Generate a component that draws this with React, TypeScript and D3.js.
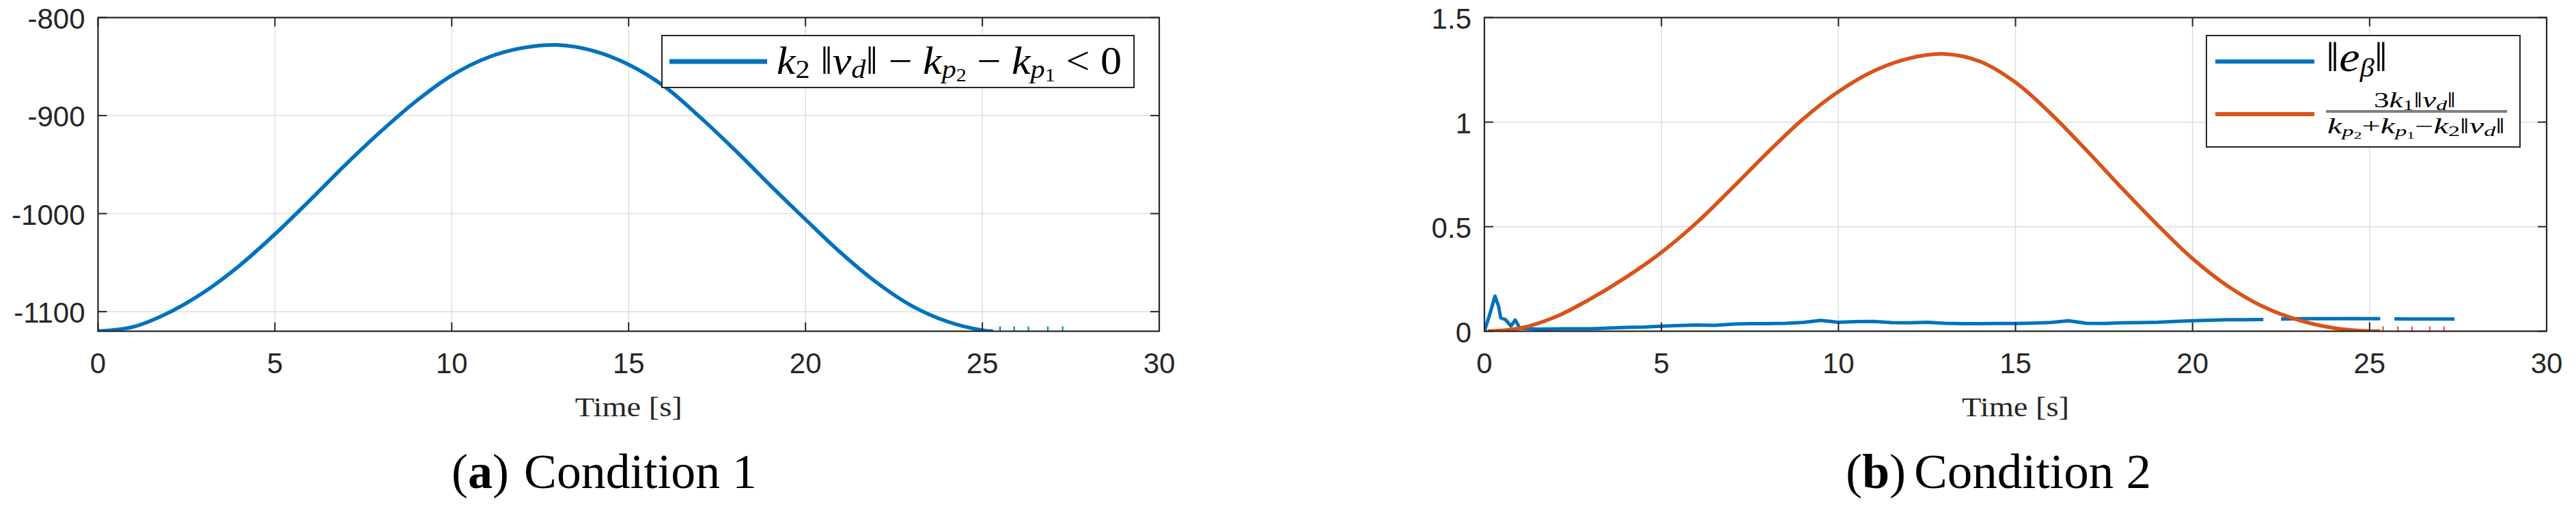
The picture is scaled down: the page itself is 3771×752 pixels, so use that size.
import React from 'react';
import * as d3 from 'd3';

// ---- data ----
const xTicks = [0, 5, 10, 15, 20, 25, 30];
const leftYTicks = [-1100, -1000, -900, -800];
const rightYTicks = [0, 0.5, 1, 1.5];

// (a) k2||vd|| - kp2 - kp1
const cond1Time = [0, 1, 2, 3, 4, 5, 6, 7, 8, 9, 10, 11, 12, 13, 14, 15, 16, 17, 18, 19, 20, 21, 22, 23, 24, 25, 25.3];
const cond1Value = [-1120, -1115.5, -1101, -1080, -1053, -1021, -986, -950, -916, -885, -859, -841, -831, -828, -834, -848, -870, -901, -935, -971, -1006, -1040, -1070, -1094, -1110, -1119, -1120];
const cond1Spikes = [25.5, 25.9, 26.3, 26.85, 27.27];

// (b) ||e_beta||
const errTime = [0, 0.15, 0.3, 0.4, 0.46, 0.6, 0.75, 0.87, 1.0, 1.5, 2, 2.5, 3, 3.5, 4, 4.5, 5, 5.5, 6, 6.5, 7, 7.5, 8, 8.5, 9, 9.5, 10, 10.5, 11, 11.5, 12, 12.5, 13, 13.5, 14, 14.5, 15, 15.5, 16, 16.5, 17, 17.5, 18, 18.5, 19, 19.5, 20, 20.5, 21, 21.5, 22, 22.3, 22.5, 23, 23.5, 24, 24.5, 25, 25.3, 25.5, 25.7, 26, 26.5, 27, 27.4];
const errValue = [0, 0.08, 0.168, 0.12, 0.064, 0.055, 0.025, 0.054, 0.015, 0.01, 0.011, 0.012, 0.012, 0.015, 0.018, 0.02, 0.024, 0.027, 0.03, 0.028, 0.034, 0.036, 0.036, 0.038, 0.042, 0.052, 0.043, 0.046, 0.047, 0.041, 0.04, 0.043, 0.038, 0.036, 0.036, 0.037, 0.037, 0.039, 0.042, 0.05, 0.038, 0.037, 0.04, 0.041, 0.043, 0.047, 0.05, 0.053, 0.055, 0.055, 0.056, null, 0.058, 0.06, 0.06, 0.06, 0.061, 0.06, 0.06, null, 0.059, 0.058, 0.058, 0.058, 0.058];

// (b) 3k1||vd|| / (kp2 + kp1 - k2||vd||)
const boundTime = [0.1, 1, 2, 3, 4, 5, 6, 7, 8, 9, 10, 11, 12, 13, 14, 15, 16, 17, 18, 19, 20, 21, 22, 23, 24, 25, 25.3];
const boundValue = [0, 0.014, 0.068, 0.155, 0.258, 0.377, 0.52, 0.685, 0.855, 1.015, 1.146, 1.245, 1.305, 1.326, 1.29, 1.19, 1.04, 0.866, 0.685, 0.51, 0.347, 0.215, 0.117, 0.053, 0.015, 0, 0];
const boundSpikes = [25.38, 25.8, 26.2, 26.7, 27.1];

const BLUE = '#0072BD';
const ORANGE = '#D95319';
const AXIS = '#262626';
const GRID = '#dedede';

const top = 25.7;
const bottom = 484.6;
const sans = '"Liberation Sans", Arial, sans-serif';
const serif = '"Liberation Serif", "Times New Roman", serif';

type Series = { time: number[]; value: (number | null)[]; color: string; width: number; curve: d3.CurveFactory; spikes?: number[] };

function Panel({ id, left, right, yDomain, yTicks, series }: { id: string; left: number; right: number; yDomain: [number, number]; yTicks: number[]; series: Series[] }) {
  const x = d3.scaleLinear().domain([0, 30]).range([left, right]);
  const y = d3.scaleLinear().domain(yDomain).range([bottom, top]);
  const tick = 13;

  return (
    <g>
      <defs>
        <clipPath id={id}>
          <rect x={left} y={top} width={right - left} height={bottom - top} />
        </clipPath>
      </defs>
      {/* grid */}
      {xTicks.map((t) => (
        <line key={'gx' + t} x1={x(t)} x2={x(t)} y1={top} y2={bottom} stroke={GRID} strokeWidth={1.5} />
      ))}
      {yTicks.map((t) => (
        <line key={'gy' + t} x1={left} x2={right} y1={y(t)} y2={y(t)} stroke={GRID} strokeWidth={1.5} />
      ))}
      {/* data */}
      <g clipPath={`url(#${id})`}>
        {series.map((s, i) => {
          const pts = s.time.map((t, j) => [t, s.value[j]] as [number, number | null]);
          const line = d3
            .line<[number, number | null]>()
            .defined((d) => d[1] !== null)
            .x((d) => x(d[0]))
            .y((d) => y(d[1] as number))
            .curve(s.curve);
          return (
            <g key={i}>
              <path d={line(pts) || ''} fill="none" stroke={s.color} strokeWidth={s.width} strokeLinejoin="round" />
              {(s.spikes || []).map((t) => (
                <line key={t} x1={x(t)} x2={x(t)} y1={bottom} y2={bottom - 7} stroke={s.color} strokeWidth={2} />
              ))}
            </g>
          );
        })}
      </g>
      {/* ticks, inside on all four sides */}
      {xTicks.map((t) => (
        <g key={'tx' + t}>
          <line x1={x(t)} x2={x(t)} y1={bottom} y2={bottom - tick} stroke={AXIS} strokeWidth={2} />
          <line x1={x(t)} x2={x(t)} y1={top} y2={top + tick} stroke={AXIS} strokeWidth={2} />
          <text x={x(t)} y={546} textAnchor="middle" fontFamily={sans} fontSize={42} fill={AXIS}>
            {t}
          </text>
        </g>
      ))}
      {yTicks.map((t) => (
        <g key={'ty' + t}>
          <line x1={left} x2={left + tick} y1={y(t)} y2={y(t)} stroke={AXIS} strokeWidth={2} />
          <line x1={right} x2={right - tick} y1={y(t)} y2={y(t)} stroke={AXIS} strokeWidth={2} />
          <text x={left - 19} y={y(t) + 16} textAnchor="end" fontFamily={sans} fontSize={42} fill={AXIS}>
            {t}
          </text>
        </g>
      ))}
      <rect x={left} y={top} width={right - left} height={bottom - top} fill="none" stroke={AXIS} strokeWidth={2.2} />
      <text x={(left + right) / 2} y={609} textAnchor="middle" fontFamily={serif} fontSize={40} fill={AXIS} textLength={157} lengthAdjust="spacingAndGlyphs">
        Time [s]
      </text>
    </g>
  );
}

const it = { fontStyle: 'italic' } as const;

export default function App() {
  return (
    <svg width={3771} height={752} style={{ position: 'absolute', left: 0, top: 0, background: '#fff' }}>
      <rect width={3771} height={752} fill="#fff" />
      <Panel
        id="clipA"
        left={143.5}
        right={1697}
        yDomain={[-1120, -800]}
        yTicks={leftYTicks}
        series={[{ time: cond1Time, value: cond1Value, color: BLUE, width: 5.5, curve: d3.curveCatmullRom.alpha(0.5), spikes: cond1Spikes }]}
      />
      <Panel
        id="clipB"
        left={2173}
        right={3728}
        yDomain={[0, 1.5]}
        yTicks={rightYTicks}
        series={[
          { time: errTime, value: errValue, color: BLUE, width: 5, curve: d3.curveLinear },
          { time: boundTime, value: boundValue, color: ORANGE, width: 5.5, curve: d3.curveCatmullRom.alpha(0.5), spikes: boundSpikes },
        ]}
      />

      {/* legend (a) */}
      <rect x={969} y={52} width={691} height={76} fill="#fff" stroke={AXIS} strokeWidth={2} />
      <line x1={980} x2={1123} y1={90} y2={90} stroke={BLUE} strokeWidth={7} />
      <text x={1137} y={108} fontFamily={serif} fontSize={56} fill="#000" textLength={505} lengthAdjust="spacingAndGlyphs">
        <tspan style={it}>k</tspan>
        <tspan fontSize={38} dy={6}>2</tspan>
        <tspan dy={-6}> ‖</tspan>
        <tspan style={it}>v</tspan>
        <tspan style={it} fontSize={38} dy={6}>d</tspan>
        <tspan dy={-6}>‖ − </tspan>
        <tspan style={it}>k</tspan>
        <tspan style={it} fontSize={38} dy={6}>p</tspan>
        <tspan fontSize={27} dy={5}>2</tspan>
        <tspan dy={-11}> − </tspan>
        <tspan style={it}>k</tspan>
        <tspan style={it} fontSize={38} dy={6}>p</tspan>
        <tspan fontSize={27} dy={5}>1</tspan>
        <tspan dy={-11}> {'<'} 0</tspan>
      </text>

      {/* legend (b) */}
      <rect x={3230} y={52} width={459} height={163} fill="#fff" stroke={AXIS} strokeWidth={2} />
      <line x1={3243} x2={3388} y1={90} y2={90} stroke={BLUE} strokeWidth={6} />
      <line x1={3243} x2={3388} y1={167} y2={167} stroke={ORANGE} strokeWidth={6} />
      <text x={3405} y={104} fontFamily={serif} fontSize={62} fill="#000" textLength={90} lengthAdjust="spacingAndGlyphs">
        <tspan>‖</tspan>
        <tspan style={it}>e</tspan>
        <tspan style={it} fontSize={38} dy={8}>β</tspan>
        <tspan dy={-8}>‖</tspan>
      </text>
      <text x={3535} y={157} textAnchor="middle" fontFamily={serif} fontSize={31} fill="#000" textLength={120} lengthAdjust="spacingAndGlyphs">
        <tspan>3</tspan>
        <tspan style={it}>k</tspan>
        <tspan fontSize={22} dy={4}>1</tspan>
        <tspan dy={-4}>‖</tspan>
        <tspan style={it}>v</tspan>
        <tspan style={it} fontSize={22} dy={4}>d</tspan>
        <tspan dy={-4}>‖</tspan>
      </text>
      <line x1={3405} x2={3670} y1={163} y2={163} stroke="#808080" strokeWidth={4} />
      <text x={3537} y={195} textAnchor="middle" fontFamily={serif} fontSize={31} fill="#000" textLength={260} lengthAdjust="spacingAndGlyphs">
        <tspan style={it}>k</tspan>
        <tspan style={it} fontSize={22} dy={4}>p</tspan>
        <tspan fontSize={15} dy={4}>2</tspan>
        <tspan dy={-8}>+</tspan>
        <tspan style={it}>k</tspan>
        <tspan style={it} fontSize={22} dy={4}>p</tspan>
        <tspan fontSize={15} dy={4}>1</tspan>
        <tspan dy={-8}>−</tspan>
        <tspan style={it}>k</tspan>
        <tspan fontSize={22} dy={4}>2</tspan>
        <tspan dy={-4}>‖</tspan>
        <tspan style={it}>v</tspan>
        <tspan style={it} fontSize={22} dy={4}>d</tspan>
        <tspan dy={-4}>‖</tspan>
      </text>

      {/* captions */}
      <text x={745} y={714} textAnchor="end" fontFamily={serif} fontSize={72} fill="#000">
        (<tspan fontWeight="bold">a</tspan>)
      </text>
      <text x={767} y={714} fontFamily={serif} fontSize={72} fill="#000" textLength={341} lengthAdjust="spacingAndGlyphs">
        Condition 1
      </text>
      <text x={2790} y={714} textAnchor="end" fontFamily={serif} fontSize={72} fill="#000">
        (<tspan fontWeight="bold">b</tspan>)
      </text>
      <text x={2802} y={714} fontFamily={serif} fontSize={72} fill="#000" textLength={347} lengthAdjust="spacingAndGlyphs">
        Condition 2
      </text>
    </svg>
  );
}
